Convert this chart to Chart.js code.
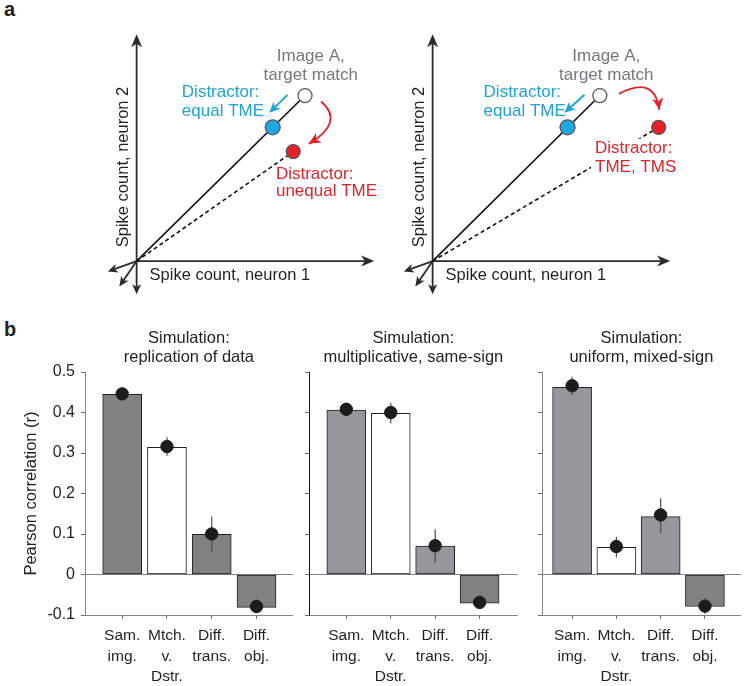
<!DOCTYPE html>
<html>
<head>
<meta charset="utf-8">
<script src="https://cdn.jsdelivr.net/npm/chart.js@4.4.1/dist/chart.umd.min.js"></script>
<style>
  body { margin: 0; background: #fff; width: 748px; height: 686px; position: relative; overflow: hidden; }
  canvas { position: absolute; }
  .tag { position: absolute; left: 4px; font: bold 20px "Liberation Sans", Arial, sans-serif; color: #231f20; }
</style>
</head>
<body>
<div class="tag" style="top:-2px">a</div>
<div class="tag" style="top:318px">b</div>
<canvas id="schemLeft" width="452" height="320" style="left:0;top:0"></canvas>
<canvas id="schemRight" width="452" height="320" style="left:296px;top:0"></canvas>
<canvas id="simReplication" width="300" height="366" style="left:0;top:320px"></canvas>
<canvas id="simMultiplicative" width="225" height="366" style="left:300px;top:320px"></canvas>
<canvas id="simUniform" width="223" height="366" style="left:525px;top:320px"></canvas>
<script>
const FONT = '"Liberation Sans", Arial, Helvetica, sans-serif';
const INK = '#231f20';
const GREY_TXT = '#77787b';
const BLUE = '#1fa3dc';
const RED = '#e0242b';

// ---------- panel a: schematic response space (arbitrary spike-count units) ----------
const axisTipsX = [10.3, 0, -1.25, -0.75, 0];
const axisTipsY = [0, 10, -0.46, -1.12, -1.46];
const stimFill = ['#ffffff', '#1fa6e0', '#e52129'];
const stimRadius = [7, 7.5, 7];
const leftStimX = [7.3, 5.9, 6.79];
const leftStimY = [7.3, 5.9, 4.83];
const rightStimX = [7.25, 5.85, 9.8];
const rightStimY = [7.3, 5.9, 5.9];

// text: [label, x, y, colour, align, mask]
const leftTexts = [
  ['Image A,', 7.55, 9.04, GREY_TXT, 'center'],
  ['target match', 7.55, 8.21, GREY_TXT, 'center'],
  ['Distractor:', 1.96, 7.46, BLUE, 'left'],
  ['equal TME', 1.96, 6.625, BLUE, 'left'],
  ['Distractor:', 6.04, 3.83, RED, 'left'],
  ['unequal TME', 6.04, 3.08, RED, 'left']
];
const rightTexts = [
  ['Image A,', 7.53, 9.04, GREY_TXT, 'center'],
  ['target match', 7.53, 8.21, GREY_TXT, 'center'],
  ['Distractor:', 2.21, 7.46, BLUE, 'left'],
  ['equal TME', 2.21, 6.625, BLUE, 'left'],
  ['Distractor:', 7.04, 4.96, RED, 'left', true],
  ['TME, TMS', 7.04, 4.125, RED, 'left', true]
];
const xAxisLabel = 'Spike count, neuron 1';
const yAxisLabel = 'Spike count, neuron 2';

// cue arrows [x0, y0, x1, y1] and curved arrows [x0, y0, cx, cy, x1, y1]
const leftCue = [6.54, 7.33, 5.75, 6.54];
const rightCue = [6.58, 7.33, 5.71, 6.54];
const leftCurve = [8.0, 7.04, 9.04, 6.125, 7.46, 5.17];
const rightCurve = [8.08, 7.375, 9.625, 8.21, 9.83, 6.67];

// ---------- panel b: simulated correlations ----------
const categories = [['Sam.', 'img.'], ['Mtch.', 'v.', 'Dstr.'], ['Diff.', 'trans.'], ['Diff.', 'obj.']];
const catPos = [1, 2, 3, 4];
const yTicks = [-0.1, 0, 0.1, 0.2, 0.3, 0.4, 0.5];
const yTickLabels = ['-0.1', '0', '0.1', '0.2', '0.3', '0.4', '0.5'];

const replicationBars = [0.445, 0.314, 0.099, -0.081];
const replicationDots = [0.446, 0.316, 0.100, -0.079];
const replicationLo = [0.432, 0.293, 0.056, -0.087];
const replicationHi = [0.460, 0.339, 0.143, -0.071];

const multiplicativeBars = [0.406, 0.398, 0.070, -0.071];
const multiplicativeDots = [0.408, 0.400, 0.071, -0.069];
const multiplicativeLo = [0.391, 0.373, 0.029, -0.077];
const multiplicativeHi = [0.423, 0.424, 0.112, -0.061];

const uniformBars = [0.462, 0.067, 0.143, -0.079];
const uniformDots = [0.466, 0.069, 0.147, -0.078];
const uniformLo = [0.443, 0.042, 0.102, -0.097];
const uniformHi = [0.488, 0.093, 0.188, -0.059];

const darkGrey = '#818181';
const lightGrey = '#96979a';

function arrowHead(ctx, tx, ty, ang, len, half, color) {
  ctx.save();
  ctx.translate(tx, ty);
  ctx.rotate(ang);
  ctx.beginPath();
  ctx.moveTo(0, 0);
  ctx.lineTo(-len, -half);
  ctx.lineTo(-len * 0.72, 0);
  ctx.lineTo(-len, half);
  ctx.closePath();
  ctx.fillStyle = color;
  ctx.fill();
  ctx.restore();
}

function arrow(ctx, x0, y0, x1, y1, color, lw, len, half) {
  const ang = Math.atan2(y1 - y0, x1 - x0);
  ctx.strokeStyle = color;
  ctx.lineWidth = lw;
  ctx.beginPath();
  ctx.moveTo(x0, y0);
  ctx.lineTo(x1 - Math.cos(ang) * len * 0.7, y1 - Math.sin(ang) * len * 0.7);
  ctx.stroke();
  arrowHead(ctx, x1, y1, ang, len, half, color);
}

const schematicPlugin = {
  id: 'schematic',
  beforeDatasetsDraw(chart) {
    const { ctx, scales: { x, y } } = chart;
    ctx.save();
    axisTipsX.forEach((tx, i) => {
      const big = i < 2;
      arrow(ctx, x.getPixelForValue(0), y.getPixelForValue(0),
        x.getPixelForValue(tx), y.getPixelForValue(axisTipsY[i]),
        '#2b2b2b', 1.8, big ? 13 : 10, big ? 5.5 : 4.5);
    });
    ctx.restore();
  },
  afterDatasetsDraw(chart, args, opts) {
    const { ctx, scales: { x, y } } = chart;
    const X = v => x.getPixelForValue(v);
    const Y = v => y.getPixelForValue(v);
    ctx.save();

    // cue arrow (equal TME)
    const c = opts.cue;
    arrow(ctx, X(c[0]), Y(c[1]), X(c[2]), Y(c[3]), BLUE, 2, 11, 5);

    // curved red arrow
    const q = opts.curve;
    ctx.strokeStyle = RED;
    ctx.lineWidth = 1.8;
    ctx.beginPath();
    ctx.moveTo(X(q[0]), Y(q[1]));
    ctx.quadraticCurveTo(X(q[2]), Y(q[3]), X(q[4]), Y(q[5]));
    ctx.stroke();
    arrowHead(ctx, X(q[4]), Y(q[5]), Math.atan2(Y(q[5]) - Y(q[3]), X(q[4]) - X(q[2])), 12, 5.5, RED);

    // labels
    ctx.font = '17px ' + FONT;
    ctx.textBaseline = 'middle';
    opts.texts.forEach(([t, tx, ty, col, align, mask]) => {
      ctx.textAlign = align;
      if (mask) {
        const w = ctx.measureText(t).width;
        ctx.fillStyle = '#fff';
        ctx.fillRect(X(tx) - 4, Y(ty) - 10, w + 8, 20);
      }
      ctx.fillStyle = col;
      ctx.fillText(t, X(tx), Y(ty));
    });

    // axis labels
    ctx.fillStyle = INK;
    ctx.font = '16.5px ' + FONT;
    ctx.textAlign = 'left';
    ctx.fillText(xAxisLabel, X(0.56), Y(-0.625));
    ctx.save();
    ctx.translate(X(-0.56), Y(4.15));
    ctx.rotate(-Math.PI / 2);
    ctx.textAlign = 'center';
    ctx.fillText(yAxisLabel, 0, 0);
    ctx.restore();

    ctx.restore();
  }
};

function schematicChart(id, stimX, stimY, texts, cue, curve) {
  const pts = stimX.map((v, i) => ({ x: v, y: stimY[i] }));
  return new Chart(document.getElementById(id), {
    type: 'scatter',
    data: {
      datasets: [
        { data: pts, backgroundColor: stimFill, borderColor: '#58595b', borderWidth: 1.3, pointRadius: stimRadius },
        { data: [{ x: 0, y: 0 }, pts[0]], showLine: true, borderColor: '#111', borderWidth: 1.6, pointRadius: 0 },
        { data: [{ x: 0, y: 0 }, pts[2]], showLine: true, borderColor: '#111', borderWidth: 1.6, borderDash: [4, 3], pointRadius: 0 }
      ]
    },
    options: {
      responsive: false,
      animation: false,
      devicePixelRatio: 1,
      layout: { padding: 0 },
      scales: {
        x: { display: false, min: -5.5417, max: 13.2917 },
        y: { display: false, min: -2.2083, max: 11.125 }
      },
      plugins: {
        legend: { display: false },
        tooltip: { enabled: false },
        schematic: { texts, cue, curve }
      }
    },
    plugins: [schematicPlugin]
  });
}

schematicChart('schemLeft', leftStimX, leftStimY, leftTexts, leftCue, leftCurve);
schematicChart('schemRight', rightStimX, rightStimY, rightTexts, rightCue, rightCurve);

// ---------- bar charts ----------
const errorBarPlugin = {
  id: 'errorBars',
  afterDatasetDraw(chart, args, opts) {
    if (args.meta.type !== 'bar') return;
    const { ctx, scales: { x, y } } = chart;
    ctx.save();
    ctx.strokeStyle = '#4d4d4f';
    ctx.lineWidth = 1.2;
    catPos.forEach((p, i) => {
      const px = x.getPixelForValue(p);
      ctx.beginPath();
      ctx.moveTo(px, y.getPixelForValue(opts.lo[i]));
      ctx.lineTo(px, y.getPixelForValue(opts.hi[i]));
      ctx.stroke();
    });
    ctx.restore();
  }
};

const panelTitlePlugin = {
  id: 'panelTitle',
  afterDraw(chart, args, opts) {
    const { ctx, chartArea } = chart;
    const cx = (chartArea.left + chartArea.right) / 2;
    ctx.save();
    ctx.font = '16.5px ' + FONT;
    ctx.fillStyle = INK;
    ctx.textAlign = 'center';
    ctx.textBaseline = 'middle';
    opts.lines.forEach((t, i) => ctx.fillText(t, cx, 18 + i * 19));
    ctx.restore();
  }
};

function simChart(id, o) {
  return new Chart(document.getElementById(id), {
    type: 'bar',
    data: {
      datasets: [
        {
          type: 'scatter',
          data: catPos.map((p, i) => ({ x: p, y: o.dots[i] })),
          backgroundColor: '#1c1c1c',
          borderColor: '#1c1c1c',
          pointRadius: 6.2
        },
        {
          type: 'bar',
          data: catPos.map((p, i) => ({ x: p, y: o.bars[i] })),
          backgroundColor: o.colors,
          borderColor: INK,
          borderWidth: 1,
          borderSkipped: false,
          barThickness: 39
        }
      ]
    },
    options: {
      responsive: false,
      animation: false,
      devicePixelRatio: 1,
      layout: { padding: { top: 52, right: o.padRight, left: 0, bottom: 0 } },
      scales: {
        x: {
          type: 'linear',
          min: o.xMin,
          max: o.xMax,
          offset: false,
          afterBuildTicks: s => { s.ticks = catPos.map(v => ({ value: v })); },
          afterFit: s => { s.height = 71; },
          ticks: {
            autoSkip: false,
            maxRotation: 0,
            padding: 7,
            color: INK,
            font: { family: FONT, size: 15.5, lineHeight: 1.3 },
            callback: v => categories[catPos.indexOf(v)]
          },
          grid: { offset: false, drawOnChartArea: false, drawTicks: true, tickLength: 4, tickColor: '#6d6e71' },
          border: { color: '#808285', width: 1 }
        },
        y: {
          min: -0.1,
          max: 0.5,
          afterBuildTicks: s => { s.ticks = yTicks.map(v => ({ value: v })); },
          afterFit: s => { s.width = o.yWidth; },
          ticks: {
            display: o.showLabels,
            padding: 6,
            color: INK,
            font: { family: FONT, size: 16 },
            callback: v => yTickLabels[yTicks.indexOf(v)]
          },
          grid: {
            color: c => (c.tick && c.tick.value === 0 ? '#808285' : 'rgba(0,0,0,0)'),
            tickColor: '#6d6e71',
            tickLength: 4,
            lineWidth: 1
          },
          border: { color: o.axisColor, width: 1 },
          title: {
            display: o.showLabels,
            text: 'Pearson correlation (r)',
            color: INK,
            font: { family: FONT, size: 16.5 },
            padding: { top: 22, bottom: 0 }
          }
        }
      },
      plugins: {
        legend: { display: false },
        tooltip: { enabled: false },
        errorBars: { lo: o.lo, hi: o.hi },
        panelTitle: { lines: o.title }
      }
    },
    plugins: [errorBarPlugin, panelTitlePlugin]
  });
}

simChart('simReplication', {
  title: ['Simulation:', 'replication of data'],
  bars: replicationBars, dots: replicationDots, lo: replicationLo, hi: replicationHi,
  colors: [darkGrey, '#ffffff', darkGrey, darkGrey],
  xMin: 0.17, xMax: 4.81, yWidth: 85, padRight: 3, showLabels: true, axisColor: '#808285'
});
simChart('simMultiplicative', {
  title: ['Simulation:', 'multiplicative, same-sign'],
  bars: multiplicativeBars, dots: multiplicativeDots, lo: multiplicativeLo, hi: multiplicativeHi,
  colors: [lightGrey, '#ffffff', lightGrey, darkGrey],
  xMin: 0.16, xMax: 4.86, yWidth: 9, padRight: 3, showLabels: false, axisColor: '#111'
});
simChart('simUniform', {
  title: ['Simulation:', 'uniform, mixed-sign'],
  bars: uniformBars, dots: uniformDots, lo: uniformLo, hi: uniformHi,
  colors: [lightGrey, '#ffffff', lightGrey, darkGrey],
  xMin: 0.32, xMax: 4.81, yWidth: 17, padRight: 1, showLabels: false, axisColor: '#808285'
});
</script>
</body>
</html>
